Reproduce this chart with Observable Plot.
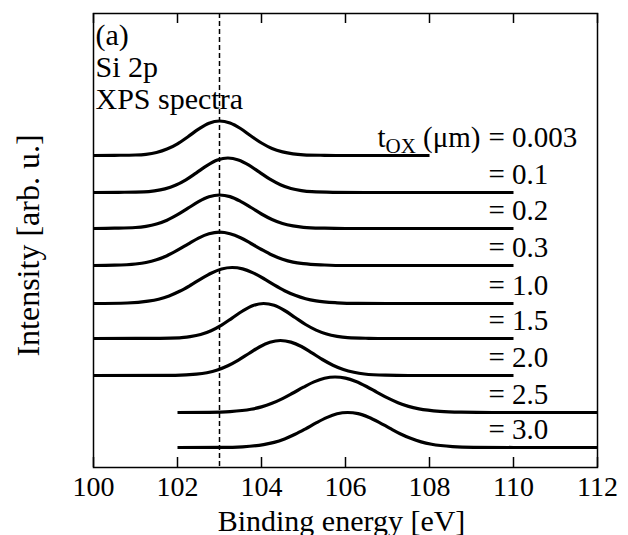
<!DOCTYPE html>
<html>
<head>
<meta charset="utf-8">
<script src="https://cdn.jsdelivr.net/npm/d3@7"></script>
<script src="https://cdn.jsdelivr.net/npm/@observablehq/plot@0.6"></script>
<style>
  html, body { margin: 0; padding: 0; background: #fff; }
</style>
</head>
<body>
<div id="chart"></div>
<script>
// t_OX values (µm) for each Si 2p spectrum, top to bottom
const tox = ["0.003", "0.1", "0.2", "0.3", "1.0", "1.5", "2.0", "2.5", "3.0"];
// vertical offset of each spectrum (arb. u.)
const offsets = [312, 275, 239, 202, 164, 129, 92, 55, 20];
// reference peak position (dashed line), eV
const dashE = 103.0;
// x tick values
const xTicks = [100, 102, 104, 106, 108, 110, 112];

// spectra: [binding energy (eV), intensity above baseline (arb. u.)]
const s0003 = [[100,0],[100.5,0.2],[101,0.5],[101.25,1.2],[101.5,3.0],[101.75,6.4],[102,11.7],[102.25,18.8],[102.5,26.3],[102.75,32.3],[103,34.5],[103.25,32.5],[103.5,27],[103.75,19.5],[104,12.5],[104.25,7],[104.5,3.6],[104.75,1.6],[105,0.7],[105.5,0.2],[106,0],[107,0],[108,0]];
const s01 = [[100,0],[100.6,0.2],[101.2,0.6],[101.45,1.6],[101.7,3.6],[101.95,7.2],[102.2,12.7],[102.45,19.7],[102.7,26.9],[102.95,32.4],[103.2,34.5],[103.45,32.6],[103.7,27.4],[103.95,20.3],[104.2,13.3],[104.45,7.8],[104.7,4.0],[104.95,1.9],[105.2,0.8],[105.7,0.2],[106.5,0],[108,0],[110,0]];
const s02 = [[100,0],[100.5,0.3],[101,1.0],[101.25,2.2],[101.5,4.5],[101.75,8.3],[102,13.8],[102.25,20.3],[102.5,26.8],[102.75,31.7],[103,33.5],[103.25,31.9],[103.5,27.2],[103.75,21],[104,14.5],[104.25,9],[104.5,5],[104.75,2.6],[105,1.2],[105.5,0.3],[106,0],[108,0],[110,0]];
const s03 = [[100,0],[100.5,0.3],[101,1.5],[101.25,3.0],[101.5,5.7],[101.75,9.8],[102,15.3],[102.25,21.4],[102.5,27.4],[102.75,31.7],[103,33.3],[103.25,31.8],[103.5,27.8],[103.75,22],[104,16],[104.25,10.5],[104.5,6.3],[104.75,3.4],[105,1.8],[105.5,0.5],[106,0],[108,0],[110,0]];
const s10 = [[100,0],[100.8,0.5],[101.3,2.3],[101.55,4.3],[101.8,7.6],[102.05,12.2],[102.3,18],[102.55,24.4],[102.8,30.3],[103.05,34.5],[103.3,36],[103.55,34.6],[103.8,30.6],[104.05,25],[104.3,18.6],[104.55,12.8],[104.8,8.2],[105.05,4.8],[105.3,2.6],[105.8,0.7],[106.3,0.1],[107,0],[110,0]];
const s15 = [[100,0],[101,0.1],[102.05,0.7],[102.3,1.9],[102.55,4.0],[102.8,7.8],[103.05,13.4],[103.3,20.4],[103.55,27.5],[103.8,33],[104.05,35],[104.3,33.2],[104.55,28],[104.8,21],[105.05,14],[105.3,8.4],[105.55,4.5],[105.8,2.2],[106.05,0.9],[106.55,0.2],[107,0],[110,0]];
const s20 = [[100,0],[101.95,0.2],[102.45,1.3],[102.7,2.8],[102.95,5.5],[103.2,9.7],[103.45,15.4],[103.7,22],[103.95,28.5],[104.2,33.2],[104.45,35],[104.7,33.4],[104.95,29],[105.2,22.6],[105.45,16],[105.7,10.3],[105.95,6],[106.2,3.2],[106.45,1.5],[106.95,0.3],[107.5,0],[110,0]];
const s25 = [[102,0],[102.75,0.2],[103.25,0.9],[103.75,3.2],[104,5.6],[104.25,9.2],[104.5,13.9],[104.75,19.5],[105,25.3],[105.25,30.6],[105.5,34.2],[105.75,35.5],[106,34.4],[106.25,31],[106.5,26],[106.75,20.2],[107,14.6],[107.25,9.8],[107.5,6.1],[107.75,3.6],[108.25,1.1],[108.75,0.3],[109.5,0],[112,0]];
const s30 = [[102,0],[103.05,0.1],[103.55,0.7],[104.05,2.9],[104.3,5.1],[104.55,8.6],[104.8,13.2],[105.05,18.7],[105.3,24.6],[105.55,29.9],[105.8,33.7],[106.05,35],[106.3,33.9],[106.55,30.3],[106.8,25.2],[107.05,19.4],[107.3,13.8],[107.55,9.2],[107.8,5.6],[108.05,3.2],[108.55,0.9],[109.05,0.2],[110,0],[112,0]];

const spectra = [s0003, s01, s02, s03, s10, s15, s20, s25, s30];

const rows = spectra.flatMap((s, i) =>
  s.map(([e, v]) => ({ e, y: offsets[i] + v, tox: tox[i] }))
);
const labels = tox.map((t, i) => ({ y: offsets[i], text: "= " + t }));

const W = 628, H = 535, mT = 13, mB = 68, mL = 93, mR = 31;
const frameH = H - mT - mB;

const chart = Plot.plot({
  width: W,
  height: H,
  marginTop: mT,
  marginBottom: mB,
  marginLeft: mL,
  marginRight: mR,
  style: {
    fontFamily: "'Liberation Serif', 'Times New Roman', serif",
    fontSize: "28px",
    color: "#000",
    background: "#fff"
  },
  x: { domain: [100, 112], axis: null },
  y: { domain: [0, frameH], axis: null },
  marks: [
    Plot.ruleX([dashE], { stroke: "#000", strokeWidth: 1.5, strokeDasharray: "5,3" }),
    Plot.line(rows, {
      x: "e", y: "y", z: "tox",
      stroke: "#000", strokeWidth: 3.2,
      curve: "monotone-x",
      strokeLinecap: "butt", strokeLinejoin: "round"
    }),
    Plot.frame({ stroke: "#000", strokeWidth: 1.5 }),
    Plot.tickX(xTicks, { x: d => d, stroke: "#000", strokeWidth: 1.5, insetTop: frameH - 10 }),
    Plot.tickX(xTicks, { x: d => d, stroke: "#000", strokeWidth: 1.5, insetBottom: frameH - 10 }),
    Plot.text(xTicks, {
      x: d => d, text: d => String(d),
      frameAnchor: "bottom", dy: 28, lineAnchor: "bottom",
      fontSize: 28, fill: "#000"
    }),
    Plot.text(["Binding energy [eV]"], {
      frameAnchor: "bottom", dy: 63, dx: -4, lineAnchor: "bottom",
      textAnchor: "middle", fontSize: 30, fill: "#000"
    }),
    Plot.text(["Intensity [arb. u.]"], {
      frameAnchor: "left", rotate: -90, dx: -55, dy: 5, lineAnchor: "bottom",
      textAnchor: "middle", fontSize: 32, fill: "#000"
    }),
    Plot.text(["(a)\nSi 2p\nXPS spectra"], {
      frameAnchor: "top-left", dx: 2, dy: 9, lineAnchor: "top",
      lineHeight: 1.07, textAnchor: "start",
      fontSize: 30, fill: "#000"
    }),
    Plot.text(labels, {
      y: "y", text: "text",
      frameAnchor: "right", dx: -(W - mR - 488),
      textAnchor: "start", lineAnchor: "bottom", dy: -9,
      fontSize: 29, fill: "#000"
    }),
    Plot.text([labels[0]], {
      y: "y", text: () => "tOX (μm)",
      frameAnchor: "right", dx: -(W - mR - 488) - 8,
      textAnchor: "end", lineAnchor: "bottom", dy: -9,
      fontSize: 29, fill: "#000"
    })
  ]
});

// subscript "OX" in t_OX
chart.querySelectorAll("text").forEach(t => {
  if (t.textContent === "tOX (μm)") {
    t.textContent = "";
    const ns = "http://www.w3.org/2000/svg";
    t.appendChild(document.createTextNode("t"));
    const sub = document.createElementNS(ns, "tspan");
    sub.setAttribute("font-size", "21");
    sub.setAttribute("dy", "6");
    sub.textContent = "OX";
    t.appendChild(sub);
    const rest = document.createElementNS(ns, "tspan");
    rest.setAttribute("dy", "-6");
    rest.textContent = " (μm)";
    t.appendChild(rest);
  }
});

document.getElementById("chart").appendChild(chart);
</script>
</body>
</html>
